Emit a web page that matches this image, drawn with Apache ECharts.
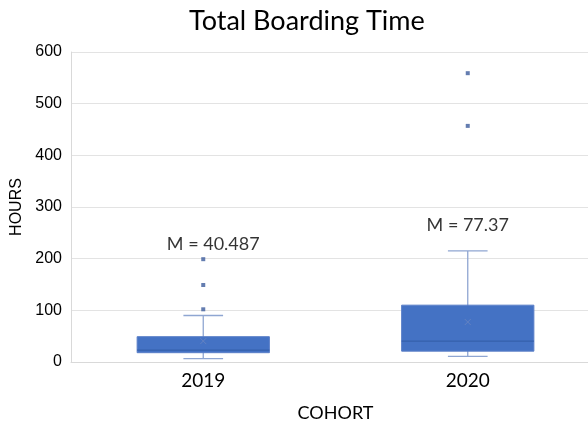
<!DOCTYPE html>
<html><head><meta charset="utf-8">
<script src="https://cdn.jsdelivr.net/npm/echarts@6/dist/echarts.min.js"></script>
<style>html,body{margin:0;padding:0;background:#fff;overflow:hidden}#c{width:588px;height:422px}</style>
</head><body><div id="c"></div>
<script>
const categories = ['2019', '2020'];
// [min, Q1, median, Q3, max]
const boxStats = [
  [6.5, 18, 23, 49, 90],
  [11, 21, 40.5, 110, 215]
];
const means = [40.487, 77.37];
const meanLabels = ['M = 40.487', 'M = 77.37'];
const outliers2019 = [102, 149, 199];
const outliers2020 = [457, 559];
const yTicks = [0, 100, 200, 300, 400, 500, 600];

const chart = echarts.init(document.getElementById('c'), null, {renderer: 'canvas'});

const boxData = boxStats.map((s, i) => [i].concat(s));
const outlierData = [];
outliers2019.forEach(v => outlierData.push([0, v]));
outliers2020.forEach(v => outlierData.push([1, v]));
const meanData = means.map((m, i) => [i, m]);

const option = {
  animation: false,
  title: {
    text: 'Total Boarding Time', left: 184, top: 3,
    textStyle: {fontFamily: 'Lato', fontSize: 27, fontWeight: 'normal', color: '#000'}
  },
  grid: {left: 71, right: -12, top: 52, bottom: 60, containLabel: false, outerBoundsMode: 'none'},
  xAxis: {
    type: 'category', data: categories,
    name: 'COHORT', nameLocation: 'middle', nameGap: 42,
    nameTextStyle: {fontFamily: 'Lato', fontSize: 18, color: '#000'},
    axisLine: {show: true, lineStyle: {color: '#d9d9d9'}},
    axisTick: {show: false},
    axisLabel: {fontFamily: 'Lato', fontSize: 19, color: '#000', margin: 9},
    splitLine: {show: false}
  },
  yAxis: {
    type: 'value', min: 0, max: 600, interval: 100,
    name: 'HOURS', nameLocation: 'middle', nameGap: 46,
    nameTextStyle: {fontFamily: 'Liberation Sans', fontSize: 16, color: '#000'},
    axisLine: {show: true, lineStyle: {color: '#d9d9d9'}},
    axisTick: {show: false},
    axisLabel: {fontFamily: 'Liberation Sans', fontSize: 16, color: '#000', margin: 9,
      formatter: v => yTicks.includes(v) ? String(v) : ''},
    splitLine: {show: true, lineStyle: {color: '#e3e3e3'}}
  },
  series: [
    {
      type: 'custom',
      data: boxData,
      encode: {x: 0, y: [1, 2, 3, 4, 5]},
      z: 3,
      renderItem: function (params, api) {
        const c = api.value(0);
        const pMin = api.coord([c, api.value(1)]);
        const pQ1 = api.coord([c, api.value(2)]);
        const pMed = api.coord([c, api.value(3)]);
        const pQ3 = api.coord([c, api.value(4)]);
        const pMax = api.coord([c, api.value(5)]);
        const band = api.size([1, 0])[0];
        const half = band * 0.25;
        const cap = band * 0.075;
        const x = pMin[0];
        const wStyle = {stroke: '#8fa6d2', lineWidth: 1.3, fill: null};
        return {
          type: 'group',
          children: [
            {type: 'line', shape: {x1: x, y1: pMax[1], x2: x, y2: pMin[1]}, style: wStyle},
            {type: 'line', shape: {x1: x - cap, y1: pMax[1], x2: x + cap, y2: pMax[1]}, style: wStyle},
            {type: 'line', shape: {x1: x - cap, y1: pMin[1], x2: x + cap, y2: pMin[1]}, style: wStyle},
            {type: 'rect', shape: {x: x - half, y: pQ3[1], width: half * 2, height: pQ1[1] - pQ3[1]},
              style: {fill: '#4472c4', stroke: '#5a7fc8', lineWidth: 1}},
            {type: 'line', shape: {x1: x - half, y1: pMed[1], x2: x + half, y2: pMed[1]},
              style: {stroke: '#3560ab', lineWidth: 1.2}}
          ]
        };
      }
    },
    {
      type: 'scatter', data: outlierData, symbol: 'rect', symbolSize: 4, z: 4,
      itemStyle: {color: '#3d5c9c'}
    },
    {
      type: 'scatter', data: meanData, z: 5,
      symbol: 'path://M0,0L10,10M10,0L0,10', symbolSize: 6,
      itemStyle: {color: 'none', borderColor: '#6a86c0', borderWidth: 1}
    },
    {
      type: 'scatter', z: 6, symbolSize: 1, silent: true,
      itemStyle: {color: 'rgba(0,0,0,0)'},
      data: [
        {value: [0, 228], label: {offset: [10, 0]}},
        {value: [1, 265], label: {offset: [0, 0]}}
      ],
      label: {
        show: true, position: 'inside',
        formatter: p => meanLabels[p.dataIndex],
        fontFamily: 'Lato', fontSize: 18, color: '#000',
        textBorderWidth: 0
      }
    }
  ]
};
chart.setOption(option);
</script>
</body></html>
